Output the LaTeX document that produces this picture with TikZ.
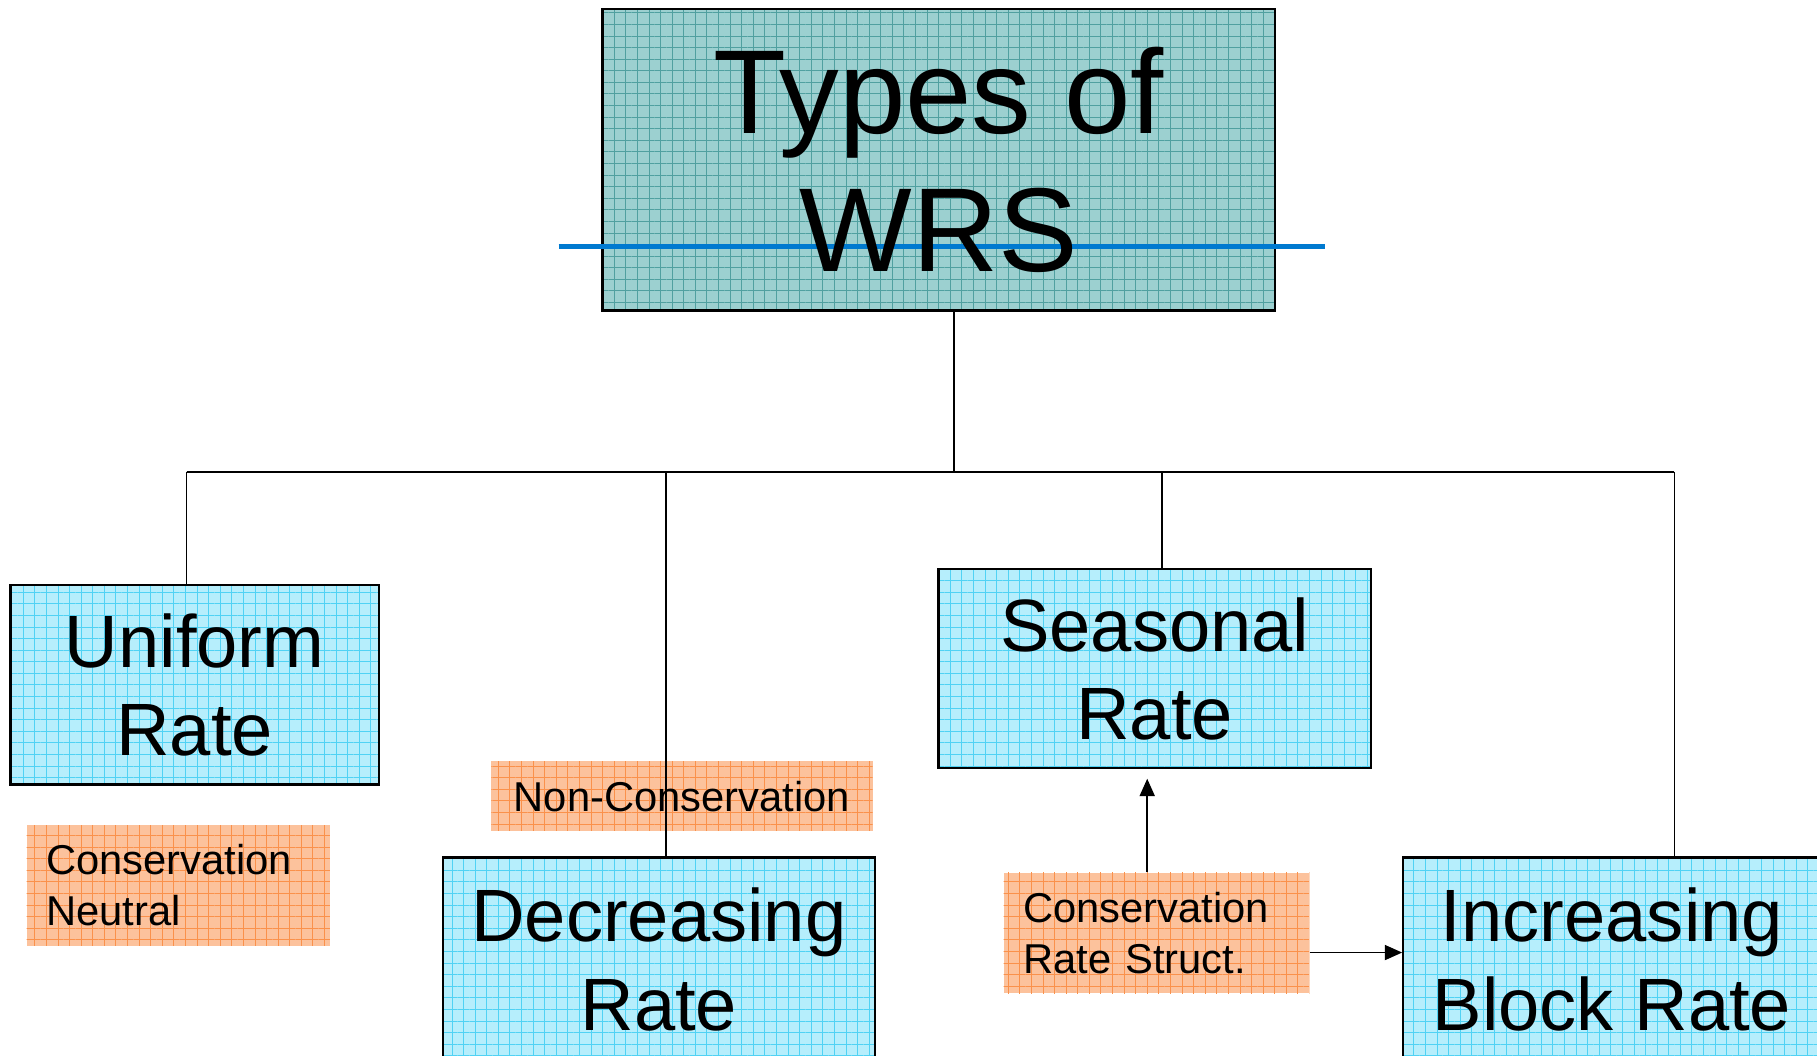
\documentclass[tikz,border=0pt]{standalone}
\usepackage{fontspec}
\setmainfont{Liberation Sans}
\usetikzlibrary{arrows.meta,patterns.meta}

\definecolor{titlefill}{RGB}{156,208,208}
\definecolor{titlegrid}{RGB}{80,160,160}
\definecolor{ratefill}{RGB}{182,238,252}
\definecolor{rategrid}{RGB}{80,210,244}
\definecolor{notefill}{RGB}{252,194,156}
\definecolor{notegrid}{RGB}{250,145,75}
\definecolor{wrsblue}{RGB}{0,122,208}

\tikzset{
	titlebox/.style={draw=black, line width=2pt, preaction={fill=titlefill}, pattern={Hatch[angle=0,distance=10pt,line width=0.7pt]}, pattern color=titlegrid, minimum width=580pt, minimum height=260pt, inner sep=0pt},
	titletext/.style={font=\fontsize{103}{119}\selectfont, align=center, inner sep=0pt},
	ratebox/.style={draw=black, line width=2pt, preaction={fill=ratefill}, pattern={Hatch[angle=0,distance=10pt,line width=0.7pt]}, pattern color=rategrid, minimum height=172pt, inner sep=0pt, font=\fontsize{64}{76}\selectfont, align=center},
	notebox/.style={preaction={fill=notefill}, pattern={Hatch[angle=0,distance=10pt,line width=0.7pt]}, pattern color=notegrid, inner xsep=17pt, inner ysep=0pt, font=\fontsize{36}{44}\selectfont},
	link/.style={line width=1.5pt},
	arr/.style={link, -{Triangle[length=15pt,width=13pt]}},
	wrsline/.style={line width=4.5pt, wrsblue}
}

\begin{document}
\begin{tikzpicture}[x=1pt,y=-1pt]
	%%%%% START %%%%%
	\useasboundingbox (0,0) rectangle (1568,911);

	% title
	\node[titlebox] (title) at (810,138) {};
	\draw[wrsline] (482,213) -- (1143,213);
	\node[titletext] (titletext) at (title.center) {Types of\\WRS};

	% rate structures
	\node[ratebox, minimum width=318pt] (uniform) at (168,591) {Uniform\\Rate};
	\node[ratebox, minimum width=373pt] (seasonal) at (996.5,577) {Seasonal\\Rate};
	\node[ratebox, minimum width=373pt, minimum height=176pt] (decreasing) at (568.5,828) {Decreasing\\Rate};
	\node[ratebox, minimum width=360pt, minimum height=176pt] (increasing) at (1391,828) {Increasing\\Block Rate};

	% notes
	\node[notebox, minimum height=104pt, text width=228pt, align=left] (neutral) at (154,764) {Conservation\\Neutral};
	\node[notebox, minimum width=329pt, minimum height=60pt] (noncons) at (588.5,687) {Non-Conservation};
	\node[notebox, minimum height=104pt, text width=230pt, align=left] (crs) at (998,805) {Conservation\\Rate Struct.};

	% tree
	\coordinate (hub) at (823,407);
	\coordinate (busL) at (161,407);
	\coordinate (busD) at (575,407);
	\coordinate (busS) at (1003,407);
	\coordinate (busR) at (1445,407);
	\draw[link] (hub |- title.south) -- (hub);
	\draw[link] (busL) -- (busR);
	\draw[link] (busL) -- (busL |- uniform.north);
	\draw[link] (busD) -- (busD |- decreasing.north);
	\draw[link] (busS) -- (busS |- seasonal.north);
	\draw[link] (busR) -- (busR |- increasing.north);

	% arrows
	\coordinate (incin) at ([yshift=6pt]increasing.west);
	\draw[arr, shorten >=8pt] ([xshift=-8pt]crs.north) -- ([xshift=-8pt]crs.north |- seasonal.south);
	\draw[arr] (crs.east |- incin) -- (incin);

	%%%%% END %%%%%
\end{tikzpicture}
\end{document}
